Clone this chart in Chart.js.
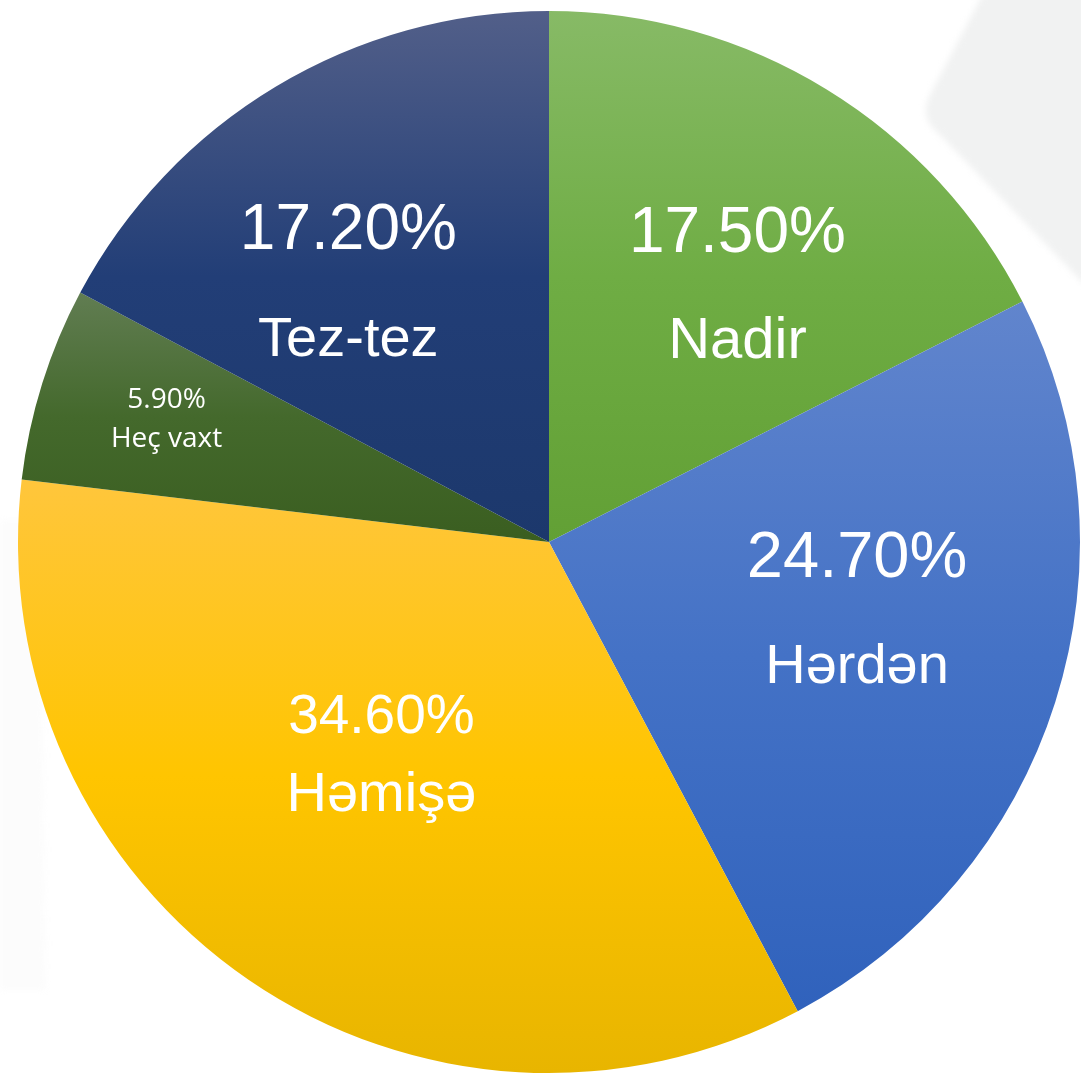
<!DOCTYPE html>
<html>
<head>
<meta charset="utf-8">
<script src="https://cdn.jsdelivr.net/npm/chart.js@4"></script>
<style>
  html, body { margin: 0; padding: 0; background: #ffffff; }
  #wrap { width: 1081px; height: 1074px; position: relative; }
</style>
</head>
<body>
<div id="wrap"><canvas id="pieChart"></canvas></div>
<script>
// data
const categories = ['Nadir', 'Hərdən', 'Həmişə', 'Heç vaxt', 'Tez-tez'];
const percentValues = [17.5, 24.7, 34.6, 5.9, 17.2];
const percentLabels = ['17.50%', '24.70%', '34.60%', '5.90%', '17.20%'];

// slice colours: top, middle, bottom of each slice
const topColors = ['#87ba66', '#6185cd', '#ffc63c', '#617d52', '#525f89'];
const midColors = ['#6fad44', '#4472c6', '#ffc500', '#44692c', '#223e77'];
const bottomColors = ['#62a035', '#3062bc', '#e8b500', '#3a5e20', '#1c386c'];

// label placement: fraction of radius, angle shift (deg) from slice middle
const labelRadius = [0.651, 0.584, 0.479, 0.763, 0.669];
const labelShift = [1.5, -11, 6.8, 1.9, -3.4];
const labelFonts = [
    ['64px "Liberation Sans", Arial', '58px "Liberation Sans", Arial', 106],
    ['65px "Liberation Sans", Arial', '56px "Liberation Sans", Arial', 106],
    ['55px "Liberation Sans", Arial', '56px "Liberation Sans", Arial', 78],
    ['28px "Open Sans", sans-serif', '28px "Open Sans", sans-serif', 39],
    ['64px "Liberation Sans", Arial', '56px "Liberation Sans", Arial', 107]
];

function sliceAngles(i) {
    const total = percentValues.reduce((a, b) => a + b, 0);
    let before = 0;
    for (let k = 0; k < i; k++) before += percentValues[k];
    const start = -Math.PI / 2 + before / total * Math.PI * 2;
    const end = start + percentValues[i] / total * Math.PI * 2;
    return [start, end];
}

function sliceGradient(context) {
    const chart = context.chart;
    const area = chart.chartArea;
    const i = context.dataIndex;
    if (!area) return midColors[i];
    const cx = (area.left + area.right) / 2;
    const cy = (area.top + area.bottom) / 2;
    const r = Math.min(area.right - area.left, area.bottom - area.top) / 2;
    const [a0, a1] = sliceAngles(i);
    let ys = [cy, cy + r * Math.sin(a0), cy + r * Math.sin(a1)];
    [-Math.PI / 2, Math.PI / 2, Math.PI * 1.5].forEach(function(a) {
        if (a >= a0 && a <= a1) ys.push(cy + r * Math.sin(a));
    });
    const yMin = Math.min.apply(null, ys);
    const yMax = Math.max.apply(null, ys);
    const g = chart.ctx.createLinearGradient(0, yMin, 0, yMax);
    g.addColorStop(0, topColors[i]);
    g.addColorStop(0.5, midColors[i]);
    g.addColorStop(1, bottomColors[i]);
    return g;
}

const backdrop = {
    id: 'backdrop',
    beforeDraw(chart) {
        const ctx = chart.ctx;
        ctx.save();
        ctx.fillStyle = '#ffffff';
        ctx.fillRect(0, 0, chart.width, chart.height);
        ctx.filter = 'blur(3px)';
        ctx.fillStyle = '#f1f2f2';
        ctx.beginPath();
        ctx.moveTo(985, -10);
        ctx.lineTo(930, 95);
        ctx.quadraticCurveTo(918, 118, 940, 135);
        ctx.lineTo(1090, 290);
        ctx.lineTo(1090, -10);
        ctx.closePath();
        ctx.fill();
        ctx.fillStyle = '#fcfcfc';
        ctx.beginPath();
        ctx.moveTo(0, 520);
        ctx.lineTo(40, 520);
        ctx.lineTo(45, 990);
        ctx.lineTo(0, 990);
        ctx.closePath();
        ctx.fill();
        ctx.restore();
    }
};

const sliceLabels = {
    id: 'sliceLabels',
    afterDatasetsDraw(chart) {
        const ctx = chart.ctx;
        const meta = chart.getDatasetMeta(0);
        ctx.save();
        ctx.fillStyle = '#ffffff';
        ctx.textAlign = 'center';
        ctx.textBaseline = 'alphabetic';
        meta.data.forEach(function(arc, i) {
            const p = arc.getProps(['x', 'y', 'startAngle', 'endAngle', 'outerRadius'], true);
            const mid = (p.startAngle + p.endAngle) / 2 + labelShift[i] * Math.PI / 180;
            const d = p.outerRadius * labelRadius[i];
            const x = p.x + d * Math.cos(mid);
            const y = p.y + d * Math.sin(mid);
            ctx.font = labelFonts[i][0];
            ctx.fillText(percentLabels[i], x, y);
            ctx.font = labelFonts[i][1];
            ctx.fillText(categories[i], x, y + labelFonts[i][2]);
        });
        ctx.restore();
    }
};

const ctxPie = document.getElementById('pieChart').getContext('2d');

new Chart(ctxPie, {
    type: 'pie',
    data: {
        labels: categories,
        datasets: [{
            data: percentValues,
            backgroundColor: sliceGradient,
            borderWidth: 0,
        }]
    },
    options: {
        responsive: true,
        maintainAspectRatio: false,
        animation: false,
        layout: {
            padding: { left: 18, right: 1, top: 11, bottom: 1 }
        },
        plugins: {
            legend: { display: false },
            tooltip: { enabled: false },
        },
    },
    plugins: [backdrop, sliceLabels],
});
</script>
</body>
</html>
